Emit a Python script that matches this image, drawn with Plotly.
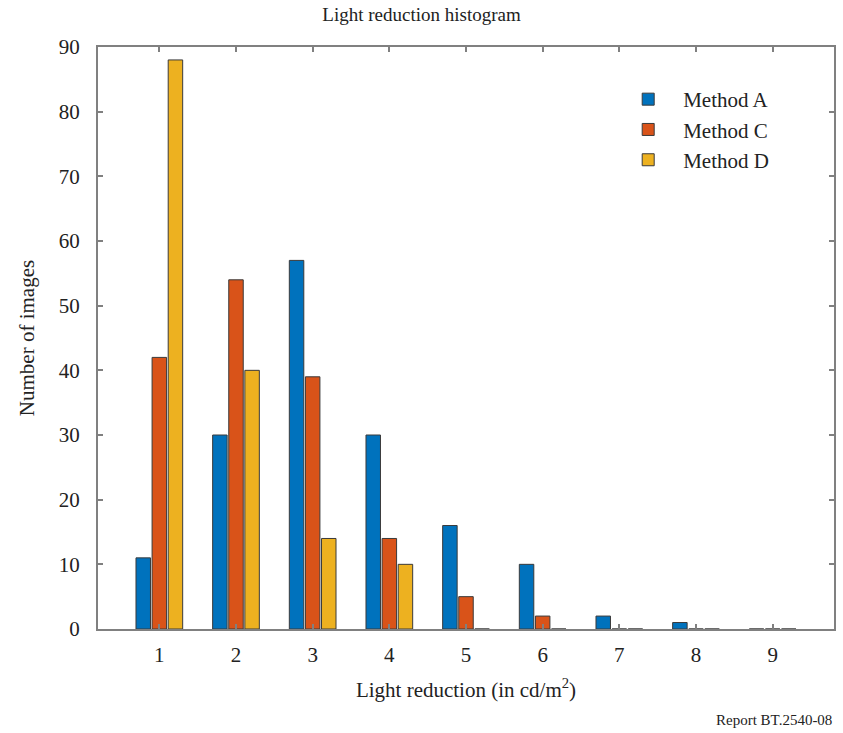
import plotly.graph_objects as go

categories = [1, 2, 3, 4, 5, 6, 7, 8, 9]
method_a = [11, 30, 57, 30, 16, 10, 2, 1, 0]
method_c = [42, 54, 39, 14, 5, 2, 0, 0, 0]
method_d = [88, 40, 14, 10, 0, 0, 0, 0, 0]
y_ticks = [0, 10, 20, 30, 40, 50, 60, 70, 80, 90]

series = [("Method A", method_a, "#0072BD"),
          ("Method C", method_c, "#D95319"),
          ("Method D", method_d, "#EDB120")]

fig = go.Figure()
for name, vals, col in series:
    fig.add_trace(go.Bar(x=categories, y=vals, name=name,
                         marker=dict(color=col, line=dict(color="#3a3a3a", width=1))))

font = "Liberation Serif, Times New Roman, serif"
axis_common = dict(showline=True, linecolor="#808080", linewidth=2, mirror="ticks",
                   ticks="inside", ticklen=5, tickcolor="#808080", tickwidth=1.5,
                   showgrid=False, zeroline=False,
                   tickfont=dict(family=font, size=21, color="#222"))

fig.update_layout(
    width=843, height=733,
    margin=dict(l=98, r=7, t=47, b=104),
    paper_bgcolor="white", plot_bgcolor="white",
    barmode="group", bargap=0.37, bargroupgap=0.1,
    title=dict(text="Light reduction histogram", x=0.5, xanchor="center",
               y=0.99, yanchor="top", font=dict(family=font, size=19, color="#222")),
    xaxis=dict(range=[0.2, 9.8], tickvals=categories, ticktext=[str(c) for c in categories],
               ticklabelstandoff=6,
               title=dict(text="Light reduction (in cd/m<sup>2</sup>)",
                          font=dict(family=font, size=21, color="#222"), standoff=16),
               **axis_common),
    yaxis=dict(range=[0, 90], tickvals=y_ticks, ticklabelstandoff=12,
               title=dict(text="Number of images",
                          font=dict(family=font, size=21, color="#222"), standoff=18),
               **axis_common),
    legend=dict(x=0.70, y=0.945, xanchor="left", yanchor="top", bgcolor="rgba(0,0,0,0)",
                font=dict(family=font, size=21, color="#222"), itemwidth=60),
    showlegend=True,
)

fig.add_annotation(text="Report BT.2540-08", xref="paper", yref="paper",
                   x=1.0, y=-0.14, xanchor="right", yanchor="top", showarrow=False,
                   font=dict(family=font, size=15, color="#222"))

fig.write_html("out.html")
